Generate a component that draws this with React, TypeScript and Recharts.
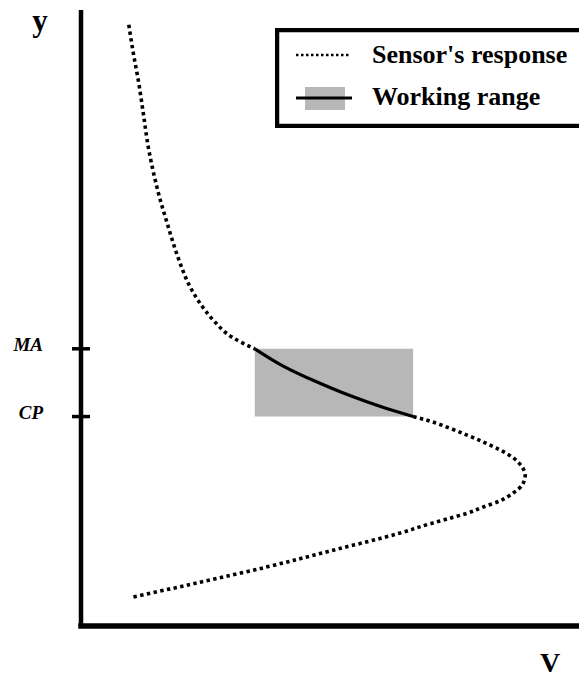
import { LineChart, Line, XAxis, YAxis, ReferenceArea, Legend } from "recharts";

// sensor response (arbitrary units, 0-100 on both axes)
const sensorV = [
  9.6, 10.4, 11.5, 12.5, 13.5, 14.9, 15.9, 17.3, 18.5, 19.9, 21.5, 23.9, 26.5, 30.5, 34.9,
  40.6, 47.4, 54.0, 60.6, 66.7,
  69.5, 74.1, 77.5, 80.7, 84.1, 86.8, 88.6, 89.2, 88.6, 86.8, 84.1, 80.7, 77.5, 74.1, 70.1,
  64.1, 50.6, 37.4, 23.9, 10.4,
];
const sensorY = [
  97.6, 93.5, 88.6, 83.3, 77.8, 72.4, 69.2, 65.4, 62.2, 58.9, 55.7, 52.4, 49.7, 46.8, 45.0,
  42.2, 39.6, 37.4, 35.5, 34.0,
  33.4, 32.1, 31.0, 29.9, 28.6, 27.3, 25.8, 24.5, 22.9, 21.6, 20.3, 19.3, 18.3, 17.5, 16.6,
  15.1, 12.3, 9.6, 7.1, 4.7,
];
const MA_INDEX = 14;
const CP_INDEX = 19;

const yTicks = [45, 34];
const yTickLabels = ["MA", "CP"];
const legendLabels = ["Sensor's response", "Working range"];
const axisNames = ["V", "y"];

const points = sensorV.map((v, i) => ({ v, y: sensorY[i] }));
const upper = points.slice(0, MA_INDEX + 1);
const working = points.slice(MA_INDEX, CP_INDEX + 1);
const lower = points.slice(CP_INDEX);

const FONT = "'Liberation Serif', 'Times New Roman', serif";
const GREY = "#b7b7b7";

const YTick = (props: any) => {
  const { x, y, payload } = props;
  const label = yTickLabels[yTicks.indexOf(payload.value)];
  return (
    <g>
      <line x1={x - 9} x2={x + 9} y1={y} y2={y} stroke="#000" strokeWidth={3.5} />
      <text
        x={x - 38}
        y={y - 2}
        textAnchor="end"
        dominantBaseline="middle"
        fontFamily={FONT}
        fontWeight="bold"
        fontStyle="italic"
        fontSize={19}
        fill="#000"
      >
        {label}
      </text>
    </g>
  );
};

const LegendBox = () => (
  <svg width={304} height={100} style={{ display: "block" }}>
    <rect x={2} y={2} width={330} height={96} fill="#fff" stroke="#000" strokeWidth={4.5} />
    <line x1={21} x2={75} y1={27} y2={27} stroke="#000" strokeWidth={2.5} strokeDasharray="2.5 2.5" />
    <text x={97} y={35} fontFamily={FONT} fontWeight="bold" fontSize={26} fill="#000">
      {legendLabels[0]}
    </text>
    <rect x={30} y={59} width={40} height={23} fill={GREY} />
    <line x1={21} x2={77} y1={70} y2={70} stroke="#000" strokeWidth={3} />
    <text x={97} y={77} fontFamily={FONT} fontWeight="bold" fontSize={26} fill="#000">
      {legendLabels[1]}
    </text>
  </svg>
);

export default function App() {
  return (
    <div style={{ position: "absolute", left: 0, top: 0 }}>
      <LineChart
        width={579}
        height={677}
        margin={{ top: 10, right: 0, bottom: 50, left: 80 }}
      >
        <XAxis
          type="number"
          dataKey="v"
          domain={[0, 100]}
          height={1}
          tick={false}
          tickLine={false}
          axisLine={{ stroke: "#000", strokeWidth: 5.5, strokeLinecap: "square" }}
          label={{
            content: () => (
              <text x={550} y={672} textAnchor="middle" fontFamily={FONT} fontWeight="bold" fontSize={28} fill="#000">
                {axisNames[0]}
              </text>
            ),
          }}
        />
        <YAxis
          type="number"
          dataKey="y"
          domain={[0, 100]}
          width={1}
          ticks={yTicks}
          tick={<YTick />}
          tickLine={false}
          tickSize={0}
          tickMargin={0}
          interval={0}
          axisLine={{ stroke: "#000", strokeWidth: 4.5 }}
          label={{
            content: () => (
              <text x={40} y={31} textAnchor="middle" fontFamily={FONT} fontWeight="bold" fontSize={31} fill="#000">
                {axisNames[1]}
              </text>
            ),
          }}
        />
        <ReferenceArea
          x1={working[0].v}
          x2={working[working.length - 1].v}
          y1={yTicks[1]}
          y2={yTicks[0]}
          fill={GREY}
          fillOpacity={1}
          stroke="none"
        />
        <Line
          data={upper}
          dataKey="y"
          type="monotoneY"
          stroke="#000"
          strokeWidth={3.6}
          strokeDasharray="3.4 3.4"
          dot={false}
          isAnimationActive={false}
        />
        <Line
          data={working}
          dataKey="y"
          type="monotoneY"
          stroke="#000"
          strokeWidth={3.2}
          dot={false}
          isAnimationActive={false}
        />
        <Line
          data={lower}
          dataKey="y"
          type="monotoneY"
          stroke="#000"
          strokeWidth={3.6}
          strokeDasharray="3.4 3.4"
          dot={false}
          isAnimationActive={false}
        />
        <Legend
          layout="horizontal"
          verticalAlign="middle"
          align="center"
          content={() => <LegendBox />}
          wrapperStyle={{ position: "absolute", left: 275, top: 28, width: 304, height: 100 }}
        />
      </LineChart>
    </div>
  );
}
